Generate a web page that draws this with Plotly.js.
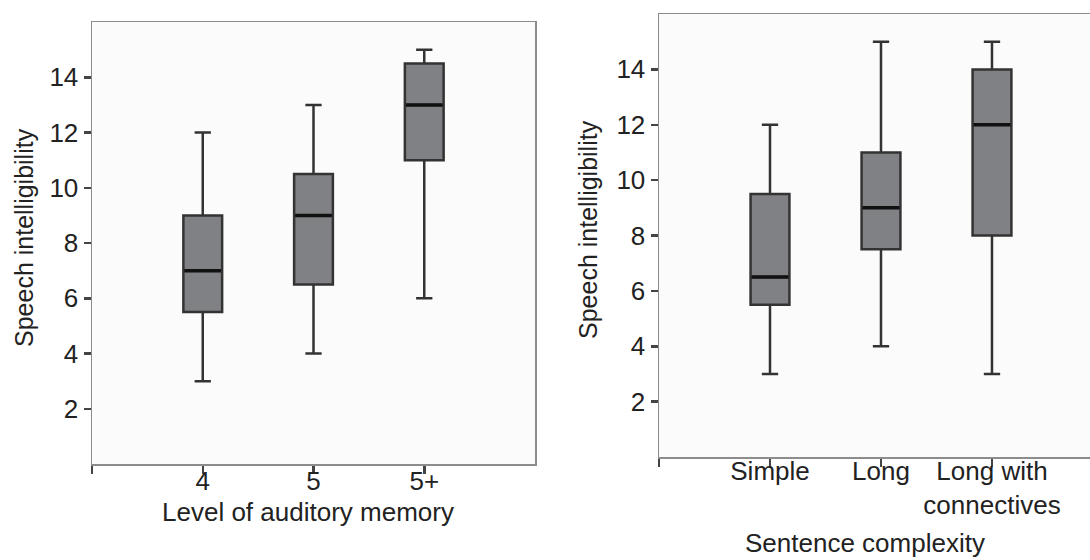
<!DOCTYPE html>
<html>
<head>
<meta charset="utf-8">
<script src="https://cdn.plot.ly/plotly-3.0.1.min.js"></script>
<style>html,body{margin:0;padding:0;background:#fff;}#chart{width:1090px;height:560px;}</style>
</head>
<body>
<div id="chart"></div>
<script>
// Panel A: Level of auditory memory
const memoryLevels = ['4', '5', '5+'];
const memLower  = [3, 4, 6];
const memQ1     = [5.5, 6.5, 11];
const memMedian = [7, 9, 13];
const memQ3     = [9, 10.5, 14.5];
const memUpper  = [12, 13, 15];

// Panel B: Sentence complexity
const complexity = ['Simple', 'Long', 'Long with<br>connectives'];
const cxLower  = [3, 4, 3];
const cxQ1     = [5.5, 7.5, 8];
const cxMedian = [6.5, 9, 12];
const cxQ3     = [9.5, 11, 14];
const cxUpper  = [12, 15, 15];

const yTicks = [2, 4, 6, 8, 10, 12, 14];
const yTitle = 'Speech intelligibility';
const xTitleA = 'Level of auditory memory';
const xTitleB = 'Sentence complexity';

const BOXW = 0.35;
const FILL = '#808184';
const LINE = '#333333';

function boxTrace(cats, lo, q1, med, q3, hi, xa, ya) {
  return {
    type: 'box',
    x: cats.map((c, i) => i),
    lowerfence: lo, q1: q1, median: med, q3: q3, upperfence: hi,
    width: BOXW,
    whiskerwidth: 0.42,
    fillcolor: FILL,
    line: {color: LINE, width: 2.5},
    xaxis: xa, yaxis: ya,
    showlegend: false,
    hoverinfo: 'skip'
  };
}
function medianTrace(cats, med, xa, ya) {
  const xs = [], ys = [];
  cats.forEach((c, i) => {
    xs.push(i - BOXW / 2 + 0.01, i + BOXW / 2 - 0.01, null);
    ys.push(med[i], med[i], null);
  });
  return {
    type: 'scatter', mode: 'lines', x: xs, y: ys,
    line: {color: '#111', width: 3.5},
    xaxis: xa, yaxis: ya, showlegend: false, hoverinfo: 'skip'
  };
}

const data = [
  boxTrace(memoryLevels, memLower, memQ1, memMedian, memQ3, memUpper, 'x', 'y'),
  medianTrace(memoryLevels, memMedian, 'x', 'y'),
  boxTrace(complexity, cxLower, cxQ1, cxMedian, cxQ3, cxUpper, 'x2', 'y2'),
  medianTrace(complexity, cxMedian, 'x2', 'y2')
];

const FAM = '"Liberation Sans", Arial, Helvetica, sans-serif';
const TICKFONT = {family: FAM, size: 26, color: '#222'};
const HTITLE = {family: FAM, size: 26, color: '#222'};
const VTITLE = {family: FAM, size: 25, color: '#222'};

function xAxis(domain, range, cats, anchor, standoff) {
  return {
    domain: domain, range: range, anchor: anchor,
    type: 'linear',
    tickmode: 'array',
    tickvals: [-1].concat(cats.map((c, i) => i)),
    ticktext: [''].concat(cats),
    ticks: 'outside', ticklen: 8, tickwidth: 2.5, tickcolor: '#444',
    ticklabelstandoff: standoff,
    showline: true, linecolor: '#8c8c8c', linewidth: 1.5, mirror: true,
    showgrid: false, zeroline: false, fixedrange: true,
    automargin: false, tickfont: TICKFONT
  };
}
function yAxis(domain, anchor, mirror) {
  return {
    domain: domain, range: [0, 16], anchor: anchor,
    tickmode: 'array', tickvals: yTicks,
    ticks: 'outside', ticklen: 7, tickwidth: 2.5, tickcolor: '#444',
    ticklabelstandoff: 0,
    showline: true, linecolor: '#8c8c8c', linewidth: 1.5, mirror: mirror,
    showgrid: false, zeroline: false, fixedrange: true,
    automargin: false, tickfont: TICKFONT
  };
}

const layout = {
  width: 1090, height: 560,
  margin: {l: 0, r: 0, t: 0, b: 0},
  paper_bgcolor: '#ffffff',
  plot_bgcolor: '#fbfbfb',
  font: TICKFONT,
  showlegend: false,
  xaxis: xAxis([92/1090, 535/1090], [-1, 3], memoryLevels, 'y', -15),
  yaxis: yAxis([1 - 464/560, 1 - 22/560], 'x', true),
  xaxis2: xAxis([659/1090, 1], [-1, 2.883], complexity, 'y2', -18),
  yaxis2: yAxis([1 - 457/560, 1 - 14/560], 'x2', false),
  annotations: [
    {text: yTitle, xref: 'paper', yref: 'paper', x: 24/1090, y: 1 - 238/560,
     textangle: -90, showarrow: false, font: VTITLE, xanchor: 'center', yanchor: 'middle'},
    {text: xTitleA, xref: 'paper', yref: 'paper', x: 308/1090, y: 1 - 512/560,
     showarrow: false, font: HTITLE, xanchor: 'center', yanchor: 'middle'},
    {text: yTitle, xref: 'paper', yref: 'paper', x: 588/1090, y: 1 - 230/560,
     textangle: -90, showarrow: false, font: VTITLE, xanchor: 'center', yanchor: 'middle'},
    {text: xTitleB, xref: 'paper', yref: 'paper', x: 865/1090, y: 1 - 543/560,
     showarrow: false, font: HTITLE, xanchor: 'center', yanchor: 'middle'}
  ]
};

Plotly.newPlot('chart', data, layout, {staticPlot: true, displayModeBar: false});
</script>
</body>
</html>
